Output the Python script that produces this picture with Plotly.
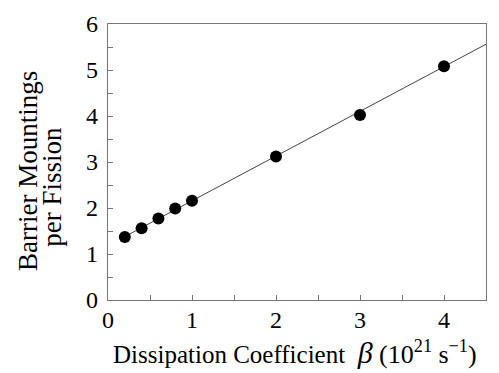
import plotly.graph_objects as go

beta = [0.2, 0.4, 0.6, 0.8, 1.0, 2.0, 3.0, 4.0]
mountings = [1.37, 1.56, 1.77, 1.99, 2.16, 3.12, 4.02, 5.08]
fit_x = [0.15, 4.5]
fit_y = [1.33, 5.56]
x_ticks = [0, 1, 2, 3, 4]
y_ticks = [0, 1, 2, 3, 4, 5, 6]

font_family = "Liberation Serif, Times New Roman, serif"

fig = go.Figure()
fig.add_trace(go.Scatter(x=fit_x, y=fit_y, mode="lines",
                         line=dict(color="#444444", width=1), showlegend=False))
fig.add_trace(go.Scatter(x=beta, y=mountings, mode="markers",
                         marker=dict(color="black", size=12), showlegend=False))

axis_common = dict(
    showgrid=False, zeroline=False, showline=True, linecolor="#777777", linewidth=1.2,
    mirror=True, ticks="inside", ticklen=5, tickcolor="#777777", tickwidth=1.2,
    tickfont=dict(family=font_family, size=24, color="black"),
    ticklabeloverflow="allow",
)

x_title = ("Dissipation Coefficient&nbsp;&nbsp;"
           "<span style='font-size:30px'><i>β</i></span>"
           "<span style='font-size:26px'> (10<sup>21</sup> s<sup>−1</sup>)</span>")

fig.update_layout(
    width=499, height=373,
    margin=dict(l=108, r=13, t=11, b=73),
    paper_bgcolor="white", plot_bgcolor="white",
    font=dict(family=font_family, color="black"),
    xaxis=dict(range=[0, 4.5], tickvals=x_ticks, ticktext=[str(v) for v in x_ticks],
               minor=dict(ticks="inside", ticklen=5, tickcolor="#777777", dtick=0.5, tickwidth=1.2),
               ticklabelstandoff=-2,
               **axis_common),
    yaxis=dict(range=[0, 6], tickvals=y_ticks, ticktext=[str(v) for v in y_ticks],
               minor=dict(ticks="inside", ticklen=5, tickcolor="#777777", dtick=0.5, tickwidth=1.2),
               ticklabelstandoff=4,
               **axis_common),
    annotations=[
        dict(text=x_title,
             xref="paper", yref="paper", x=0.496, y=-0.19, xanchor="center", yanchor="middle",
             showarrow=False, font=dict(family=font_family, size=25, color="black")),
        dict(text="Barrier Mountings", textangle=-90,
             xref="paper", yref="paper", x=-0.212, y=0.467, xanchor="center", yanchor="middle",
             showarrow=False, font=dict(family=font_family, size=27, color="black")),
        dict(text="per Fission", textangle=-90,
             xref="paper", yref="paper", x=-0.147, y=0.412, xanchor="center", yanchor="middle",
             showarrow=False, font=dict(family=font_family, size=27, color="black")),
    ],
)

fig.write_html("out.html")
